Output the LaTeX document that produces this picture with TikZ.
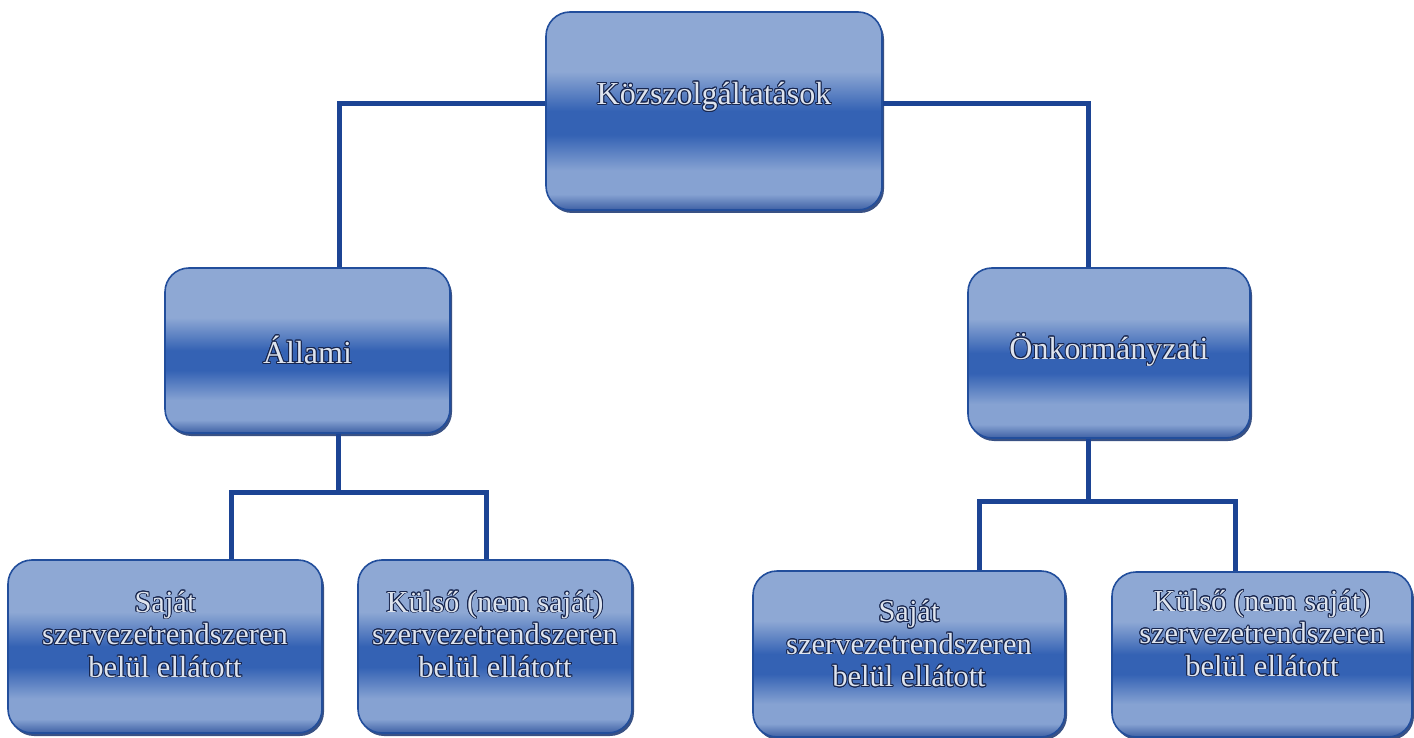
\documentclass[tikz,border=0pt]{standalone}
\usepackage{fontspec}
\setmainfont{Liberation Serif}
\usepackage{contour}
\contourlength{0.9pt}
\usetikzlibrary{shadows}
\definecolor{cA}{RGB}{142,168,212}
\definecolor{cB}{RGB}{52,98,180}
\definecolor{cC}{RGB}{134,162,210}
\definecolor{cD}{RGB}{62,96,164}
\definecolor{rim}{RGB}{34,78,156}
\definecolor{shadowc}{RGB}{22,50,110}
\definecolor{linec}{RGB}{28,68,148}
\definecolor{txtfill}{RGB}{222,228,238}
\definecolor{txtline}{RGB}{24,38,78}
\pgfdeclareverticalshading{boxshade}{100bp}{color(0bp)=(cD); color(25bp)=(cD); color(29bp)=(cC); color(35bp)=(cC); color(44bp)=(cB); color(50bp)=(cB); color(60bp)=(cA); color(75bp)=(cA); color(100bp)=(cA)}
\newcommand{\ct}[1]{\contour{txtline}{#1}}
\tikzset{
  orgbox/.style={rectangle, rounded corners=24pt, shading=boxshade, draw=rim, line width=1.6pt,
    drop shadow={shadow xshift=2pt, shadow yshift=-3pt, fill=shadowc, opacity=0.85},
    inner sep=0pt},
  txt/.style={text=txtfill, align=center, font=\fontsize{30.5}{32.5}\selectfont},
  bigtxt/.style={text=txtfill, align=center, font=\fontsize{32}{36}\selectfont},
  conn/.style={draw=linec, line width=5pt}
}
\begin{document}
\begin{tikzpicture}[x=1pt,y=-1pt]
\useasboundingbox (0,0) rectangle (1414,738);
% boxes
\node[orgbox, minimum width=336pt, minimum height=198pt,
  label={[bigtxt,yshift=14pt]center:{\ct{Közszolgáltatások}}}] (top) at (714,111) {};
\node[orgbox, minimum width=285pt, minimum height=165pt,
  label={[bigtxt]center:{\ct{Állami}}}] (allami) at (307.5,350.5) {};
\node[orgbox, minimum width=282pt, minimum height=170pt,
  label={[bigtxt,yshift=3pt]center:{\ct{Önkormányzati}}}] (onk) at (1109,353) {};
\node[orgbox, minimum width=314pt, minimum height=173pt,
  label={[txt,yshift=12pt]center:{\ct{Saját}\\\ct{szervezetrendszeren}\\\ct{belül ellátott}}}] (b1) at (165,646.5) {};
\node[orgbox, minimum width=274pt, minimum height=173pt,
  label={[txt,yshift=12pt]center:{\ct{Külső (nem saját)}\\\ct{szervezetrendszeren}\\\ct{belül ellátott}}}] (b2) at (495,646.5) {};
\node[orgbox, minimum width=312pt, minimum height=166pt,
  label={[txt,yshift=10pt]center:{\ct{Saját}\\\ct{szervezetrendszeren}\\\ct{belül ellátott}}}] (b3) at (909,654) {};
\node[orgbox, minimum width=300pt, minimum height=165pt,
  label={[txt,yshift=21pt]center:{\ct{Külső (nem saját)}\\\ct{szervezetrendszeren}\\\ct{belül ellátott}}}] (b4) at (1262,654.5) {};
% junction points
\coordinate (aj) at (338,492);
\coordinate (oj) at (1088,501);
% connectors
\draw[conn] ([yshift=7pt]top.west) -| ([xshift=31.5pt]allami.north);
\draw[conn] ([yshift=7pt]top.east) -| ([xshift=-21pt]onk.north);
\draw[conn] ([xshift=30.5pt]allami.south) -- (aj);
\draw[conn] ([xshift=66pt]b1.north) |- (aj) -| ([xshift=-9pt]b2.north);
\draw[conn] ([xshift=-21pt]onk.south) -- (oj);
\draw[conn] ([xshift=70pt]b3.north) |- (oj) -| ([xshift=-27pt]b4.north);
\end{tikzpicture}
\end{document}
